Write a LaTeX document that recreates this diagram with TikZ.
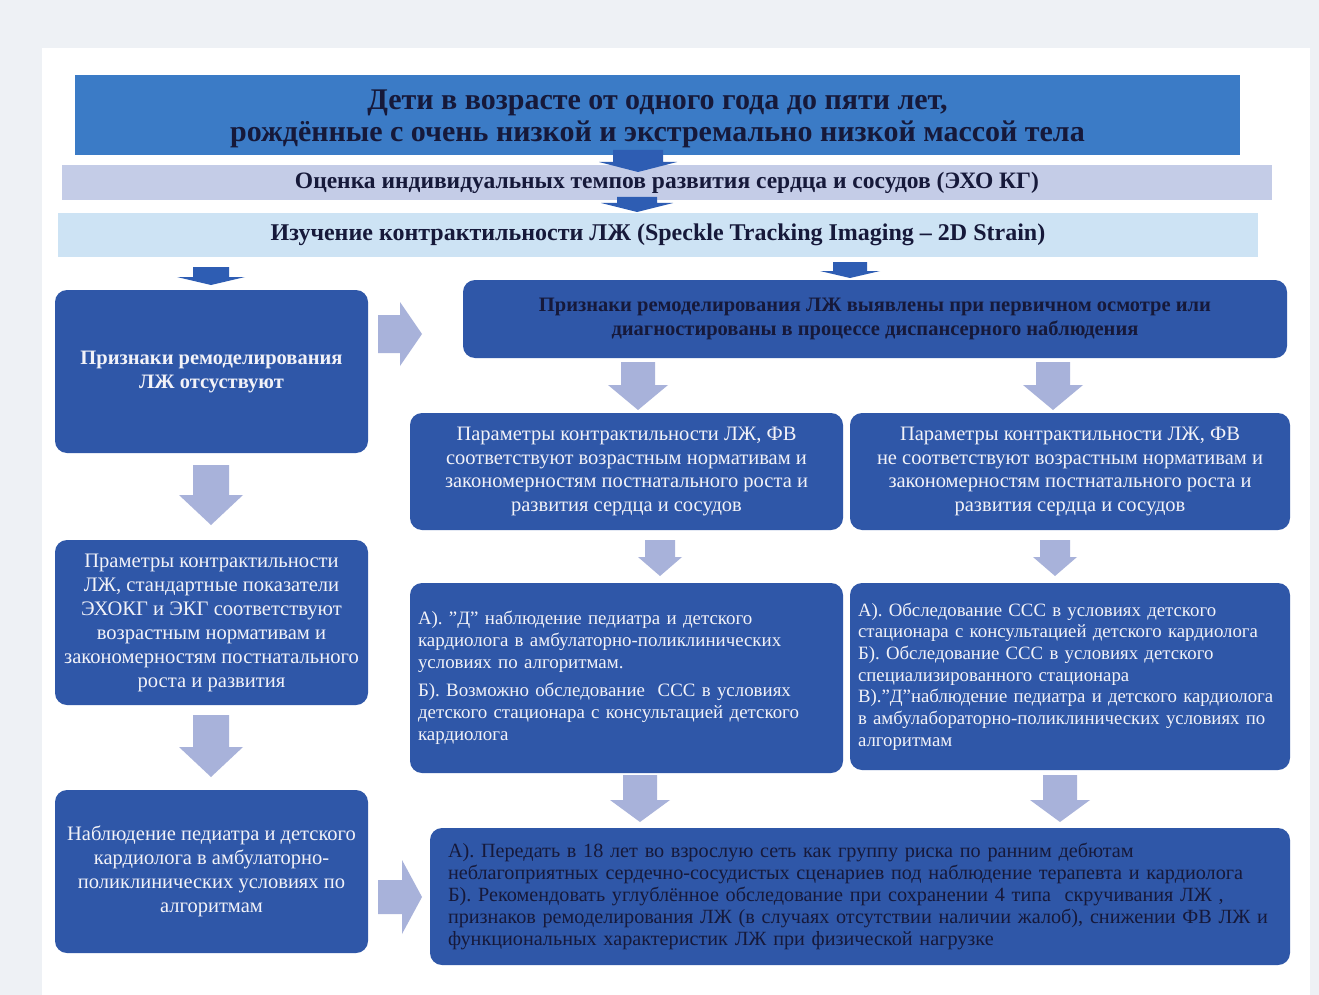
\documentclass[tikz,border=0pt]{standalone}
\usepackage{fontspec}
\setmainfont{Liberation Serif}
\definecolor{bgouter}{HTML}{EEF1F5}
\definecolor{titleblue}{HTML}{3B7BC6}
\definecolor{bartwo}{HTML}{C4CCE7}
\definecolor{barthree}{HTML}{CDE3F4}
\definecolor{boxblue}{HTML}{2F57A8}
\definecolor{darkarrow}{HTML}{2E5DB3}
\definecolor{lightarrow}{HTML}{A8B2DA}
\definecolor{txtlight}{HTML}{F2F2F8}
\definecolor{txtdark}{HTML}{16193A}
\newcommand\dnarr[7]{\fill[#1] (#2-#6,#3) -- (#2+#6,#3) -- (#2+#6,#4) -- (#2+#7,#4) -- (#2,#5) -- (#2-#7,#4) -- (#2-#6,#4) -- cycle;}
\newcommand\rtarr[7]{\fill[#1] (#3,#2-#6) -- (#4,#2-#6) -- (#4,#2-#7) -- (#5,#2) -- (#4,#2+#7) -- (#4,#2+#6) -- (#3,#2+#6) -- cycle;}
\begin{document}
\begin{tikzpicture}[x=1pt,y=-1pt,
  bar/.style={rectangle, inner sep=0pt, align=center, text=txtdark},
  box/.style={rectangle, rounded corners=12pt, fill=boxblue, inner sep=0pt, align=center},
  lt/.style={text=txtlight},
  dk/.style={text=txtdark}]
\useasboundingbox (0,0) rectangle (1319,995);
\fill[bgouter] (0,0) rectangle (1319,995);
\fill[white] (42,48) rectangle (1310,995);

% top bars
\node[bar, fill=titleblue, minimum width=1165, minimum height=80] (title) at (657.5,115) {};
\node[bar, inner sep=0pt, font=\fontsize{30}{32}\selectfont\bfseries] (titletext) at (657.5,119)
  {Дети в возрасте от одного года до пяти лет,\\рождённые с очень низкой и экстремально низкой массой тела};
\node[bar, fill=bartwo, minimum width=1210, minimum height=35,
  font=\fontsize{23.5}{24}\selectfont\bfseries] (eval) at (667,182.5)
  {Оценка индивидуальных темпов развития сердца и сосудов (ЭХО КГ)};
\node[bar, fill=barthree, minimum width=1200, minimum height=44,
  font=\fontsize{24}{24}\selectfont\bfseries] (study) at (658,235)
  {Изучение контрактильности ЛЖ (Speckle Tracking Imaging – 2D Strain)};
\dnarr{darkarrow}{638}{150}{162}{172}{25}{39}
\dnarr{darkarrow}{637}{197}{203}{212}{20}{36}

% left column
\node[box, lt, minimum width=313, minimum height=163,
  font=\fontsize{20.5}{24}\selectfont\bfseries] (noremod) at (211.5,371.5)
  {Признаки ремоделирования\\ЛЖ отсуствуют};
\node[box, lt, minimum width=313, minimum height=165,
  font=\fontsize{20.6}{24}\selectfont] (normL) at (211.5,622.5)
  {Праметры контрактильности\\ЛЖ, стандартные показатели\\ЭХОКГ и ЭКГ соответствуют\\возрастным нормативам и\\закономерностям постнатального\\роста и развития};
\node[box, lt, minimum width=313, minimum height=163,
  font=\fontsize{20.5}{24}\selectfont] (obsL) at (211.5,871.5)
  {Наблюдение педиатра и детского\\кардиолога в амбулаторно-\\поликлинических условиях по\\алгоритмам};

% right part
\node[box, dk, minimum width=824, minimum height=78,
  font=\fontsize{20.5}{24}\selectfont\bfseries] (remod) at (875,319)
  {Признаки ремоделирования ЛЖ выявлены при первичном осмотре или\\диагностированы в процессе диспансерного наблюдения};
\node[box, lt, minimum width=433, minimum height=117,
  font=\fontsize{20.5}{23.5}\selectfont] (normM) at (626.5,471.5)
  {Параметры контрактильности ЛЖ, ФВ\\соответствуют возрастным нормативам и\\закономерностям постнатального роста и\\развития сердца и сосудов};
\node[box, lt, minimum width=440, minimum height=117,
  font=\fontsize{20.5}{23.5}\selectfont] (abnM) at (1070,471.5)
  {Параметры контрактильности ЛЖ, ФВ\\не соответствуют возрастным нормативам и\\закономерностям постнатального роста и\\развития сердца и сосудов};
\node[box, lt, minimum width=433, minimum height=190, text width=417, align=left,
  font=\fontsize{18.9}{22}\selectfont] (planA) at (626.5,678)
  {А). "Д" наблюдение педиатра и детского\\кардиолога в амбулаторно-поликлинических\\условиях по алгоритмам.\\[6pt]Б). Возможно обследование \ ССС в условиях\\детского стационара с консультацией детского\\кардиолога};
\node[box, lt, minimum width=440, minimum height=187, text width=424, align=left,
  font=\fontsize{18.8}{21.7}\selectfont] (planB) at (1070,676.5)
  {А). Обследование ССС в условиях детского\\стационара с консультацией детского кардиолога\\Б). Обследование ССС в условиях детского\\специализированного стационара\\В)."Д"наблюдение педиатра и детского кардиолога\\в амбулабораторно-поликлинических условиях по\\алгоритмам};
\node[box, dk, minimum width=860, minimum height=137, text width=824, align=left,
  font=\fontsize{20.2}{22}\selectfont] (final) at (860,896.5)
  {А). Передать в 18 лет во взрослую сеть как группу риска по ранним дебютам\\неблагоприятных сердечно-сосудистых сценариев под наблюдение терапевта и кардиолога\\Б). Рекомендовать углублённое обследование при сохранении 4 типа \ скручивания ЛЖ ,\\признаков ремоделирования ЛЖ (в случаях отсутствии наличии жалоб), снижении ФВ ЛЖ и\\функциональных характеристик ЛЖ при физической нагрузке};

% arrows
\dnarr{darkarrow}{211}{267}{277}{285}{18}{34}
\dnarr{darkarrow}{850}{262}{271}{278}{17}{30}
\rtarr{lightarrow}{334}{378}{400}{422}{19}{32}
\rtarr{lightarrow}{897}{378}{402}{422}{17}{37}
\dnarr{lightarrow}{211}{465}{495}{525}{18}{32}
\dnarr{lightarrow}{211}{715}{747}{777}{18}{32}
\dnarr{lightarrow}{638}{362}{385}{410}{17}{30}
\dnarr{lightarrow}{1053}{362}{385}{410}{17}{30}
\dnarr{lightarrow}{660}{540}{557}{576}{15}{22}
\dnarr{lightarrow}{1055}{540}{557}{576}{15}{22}
\dnarr{lightarrow}{640}{775}{800}{822}{17}{30}
\dnarr{lightarrow}{1060}{775}{800}{822}{17}{30}
\end{tikzpicture}
\end{document}
